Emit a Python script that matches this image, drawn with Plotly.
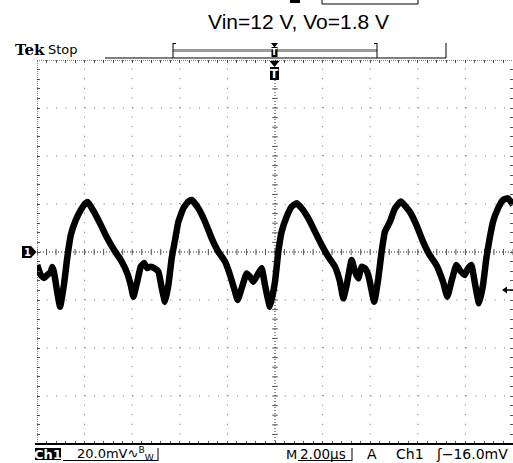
import plotly.graph_objects as go

# ---- data (time in microseconds, Ch1 voltage in mV, AC coupled) ----
time_us = [-9.99, -9.84, -9.71, -9.57, -9.42, -9.36, -9.29, -9.15, -9.03, -8.87,
           -8.73, -8.58, -8.37, -8.16, -7.95, -7.86, -7.61, -7.32, -7.05, -6.76,
           -6.48, -6.21, -6.06, -5.95, -5.79, -5.64, -5.50, -5.37, -5.22, -5.08,
           -4.90, -4.76, -4.62, -4.48, -4.34, -4.20, -4.06, -3.85, -3.64, -3.50,
           -3.22, -2.94, -2.66, -2.38, -2.10, -1.89, -1.68, -1.57, -1.40, -1.19,
           -1.05, -0.91, -0.70, -0.56, -0.42, -0.21, 0.00, 0.14, 0.28, 0.49,
           0.70, 0.91, 1.12, 1.40, 1.68, 1.96, 2.24, 2.52, 2.73, 2.87,
           3.01, 3.22, 3.36, 3.50, 3.64, 3.78, 3.92, 4.17, 4.34, 4.48,
           4.62, 4.83, 5.04, 5.29, 5.66, 5.94, 6.22, 6.50, 6.78, 7.06,
           7.24, 7.41, 7.62, 7.76, 7.97, 8.11, 8.25, 8.39, 8.57, 8.74,
           8.88, 9.02, 9.16, 9.37, 9.58, 9.79, 10.0]
ch1_mv = [-5.4, -9.6, -10.8, -9.6, -8.3, -6.3, -8.3, -16.7, -22.8, -13.8,
          -2.5, 7.1, 13.3, 17.5, 20.4, 20.8, 16.8, 11.3, 5.8, 0.8,
          -3.3, -8.8, -13.8, -18.6, -12.4, -6.1, -4.6, -6.7, -6.1, -6.7,
          -8.2, -15.0, -20.7, -13.8, -2.6, 5.0, 12.6, 18.2, 21.0, 21.7,
          18.2, 12.6, 5.7, 0.1, -4.0, -9.6, -16.5, -20.0, -15.1, -8.9,
          -10.3, -12.4, -8.9, -6.8, -13.8, -22.8, -12.4, 0.1, 8.5, 14.7,
          18.9, 20.3, 18.2, 14.0, 8.5, 2.9, -2.0, -6.1, -12.4, -19.3,
          -13.8, -3.3, -8.2, -11.0, -6.1, -6.8, -9.6, -20.7, -11.0, 0.1,
          8.5, 12.6, 18.2, 21.0, 16.8, 11.3, 4.3, -1.3, -5.4, -12.4,
          -18.6, -12.4, -5.4, -7.5, -9.6, -6.8, -5.4, -12.4, -21.4, -13.8,
          -2.6, 5.7, 12.6, 18.2, 21.7, 22.4, 19.6]

title_text = "Vin=12 V, Vo=1.8 V"
ch_label = "Ch1"
volts_div = "20.0mV"
time_div = "2.00µs"
trig_text = "Ch1"
trig_level = "ʃ−16.0mV"

W, H = 513, 463
ML, MR, MT, MB = 37, 0, 60, 19
PW, PH = W - ML - MR, H - MT - MB


def px(x):
    return (x - ML) / PW


def py(y):
    return (H - MB - y) / PH


fig = go.Figure()
fig.add_trace(go.Scatter(x=time_us, y=ch1_mv, mode="lines",
                         line=dict(color="black", width=6.5, shape="spline", smoothing=0.4),
                         hoverinfo="skip", showlegend=False))

shapes = []
grid_col = "#6e6e6e"
for t in range(-8, 10, 2):
    if t == 0:
        continue
    shapes.append(dict(type="line", xref="x", yref="y", x0=t, x1=t, y0=-80, y1=80,
                       line=dict(color=grid_col, width=1, dash="1px,8.6px"), layer="below"))
for v in range(-60, 80, 20):
    if v == 0:
        continue
    shapes.append(dict(type="line", xref="x", yref="y", x0=-10, x1=10, y0=v, y1=v,
                       line=dict(color=grid_col, width=1, dash="1px,8.53px"), layer="below"))
shapes.append(dict(type="line", xref="x", yref="y", x0=-10, x1=10, y0=0, y1=0,
                   line=dict(color="#222", width=1, dash="1px,2px"), layer="below"))
shapes.append(dict(type="line", xref="x", yref="y", x0=0, x1=0, y0=-80, y1=80,
                   line=dict(color="#222", width=1, dash="1px,2px"), layer="below"))
for i in range(-25, 26):
    t = i * 0.4
    shapes.append(dict(type="line", xref="x", yref="y", x0=t, x1=t, y0=-1.3, y1=1.3,
                       line=dict(color="#555", width=1), layer="below"))
for i in range(-20, 21):
    v = i * 4
    shapes.append(dict(type="line", xref="x", yref="y", x0=-0.12, x1=0.12, y0=v, y1=v,
                       line=dict(color="#555", width=1), layer="below"))
shapes.append(dict(type="line", xref="x", yref="y", x0=-10, x1=10, y0=80, y1=80,
                   line=dict(color="black", width=1, dash="1px,1px")))
shapes.append(dict(type="line", xref="x", yref="y", x0=-10, x1=-10, y0=-80, y1=80,
                   line=dict(color="black", width=1, dash="1px,1px")))
shapes.append(dict(type="line", xref="paper", yref="paper", x0=px(35), x1=1, y0=py(444), y1=py(444),
                   line=dict(color="black", width=2)))


def pline(x0, y0, x1, y1, color="black", width=1):
    shapes.append(dict(type="line", xref="paper", yref="paper",
                       x0=px(x0), x1=px(x1), y0=py(y0), y1=py(y1),
                       line=dict(color=color, width=width)))


def prect(x0, y0, x1, y1, color="black"):
    shapes.append(dict(type="rect", xref="paper", yref="paper",
                       x0=px(x0), x1=px(x1), y0=py(y0), y1=py(y1),
                       line=dict(width=0), fillcolor=color))


def ppath(points, color="black"):
    d = "M " + " L ".join(f"{px(a):.5f},{py(b):.5f}" for a, b in points) + " Z"
    shapes.append(dict(type="path", xref="paper", yref="paper", path=d,
                       line=dict(width=0), fillcolor=color))


pline(105, 58, 446, 58)
pline(446, 43, 446, 58)
pline(173, 50.5, 377, 50.5, color="#9a9a9a", width=3)
pline(173, 43, 173, 58)
pline(173, 43.5, 176, 43.5)
pline(377, 43, 377, 58)
pline(374, 43.5, 377, 43.5)
ppath([(271, 43), (278, 43), (274.5, 47.5)])
prect(271.5, 47, 277.5, 57)
ppath([(269.5, 61), (279.5, 61), (274.5, 67)])
prect(270, 67, 279, 80)
prect(290, 0, 300, 3)
pline(322, 4, 418, 4)
pline(322, 0, 322, 4)
pline(418, 0, 418, 4)
ppath([(22, 246), (31, 246), (36.5, 252), (31, 258), (22, 258)])
ppath([(502, 290), (507, 286.5), (507, 293.5)])
pline(506, 290, 513, 290, width=1.5)
prect(35, 448, 61, 460)
pline(63, 460.5, 158, 460.5)
pline(158, 448, 158, 461)
pline(298, 460.5, 352, 460.5)
pline(352, 448, 352, 461)

annotations = []


def ptext(x, y, text, size=13, color="black", family="DejaVu Sans", anchor="left", bold=False):
    if bold:
        text = f"<b>{text}</b>"
    annotations.append(dict(xref="paper", yref="paper", x=px(x), y=py(y), text=text,
                            showarrow=False, xanchor=anchor, yanchor="middle",
                            font=dict(size=size, color=color, family=family)))


ptext(298, 21, title_text, size=21, family="Liberation Sans, Arial", anchor="center")
ptext(13, 50, "Tek", size=15, family="DejaVu Serif", bold=True)
ptext(46, 49.5, "Stop", size=13, family="DejaVu Sans")
ptext(274.5, 52, "T", size=9, color="white", anchor="center", bold=True)
ptext(274.5, 74, "T", size=12, color="white", anchor="center", bold=True)
ptext(27, 252, "1", size=10, color="white", anchor="center", bold=True)
ptext(48, 454, ch_label, size=13, color="white", anchor="center", bold=True)
ptext(75, 454, volts_div + "∿<sup>B</sup><sub>W</sub>", size=13)
ptext(284, 454, "M", size=13)
ptext(298, 454, time_div, size=13.5)
ptext(365, 454, "A", size=14)
ptext(394, 454, trig_text, size=14)
ptext(434, 454, trig_level, size=14)

fig.update_layout(
    width=W, height=H,
    margin=dict(l=ML, r=MR, t=MT, b=MB, pad=0),
    paper_bgcolor="white", plot_bgcolor="white",
    showlegend=False,
    xaxis=dict(range=[-10, 10], showgrid=False, zeroline=False, showticklabels=False,
               ticks="inside", tickmode="linear", tick0=-10, dtick=0.4, ticklen=3,
               tickcolor="#555", tickwidth=1, mirror="allticks", showline=False, fixedrange=True),
    yaxis=dict(range=[-80, 80], showgrid=False, zeroline=False, showticklabels=False,
               ticks="inside", tickmode="linear", tick0=-80, dtick=4, ticklen=3,
               tickcolor="#555", tickwidth=1, mirror="allticks", showline=False, fixedrange=True),
    shapes=shapes,
    annotations=annotations,
)

fig.write_html("out.html", config={"displayModeBar": False},
               post_script="document.body.style.margin='0px';document.body.style.overflow='hidden';")
